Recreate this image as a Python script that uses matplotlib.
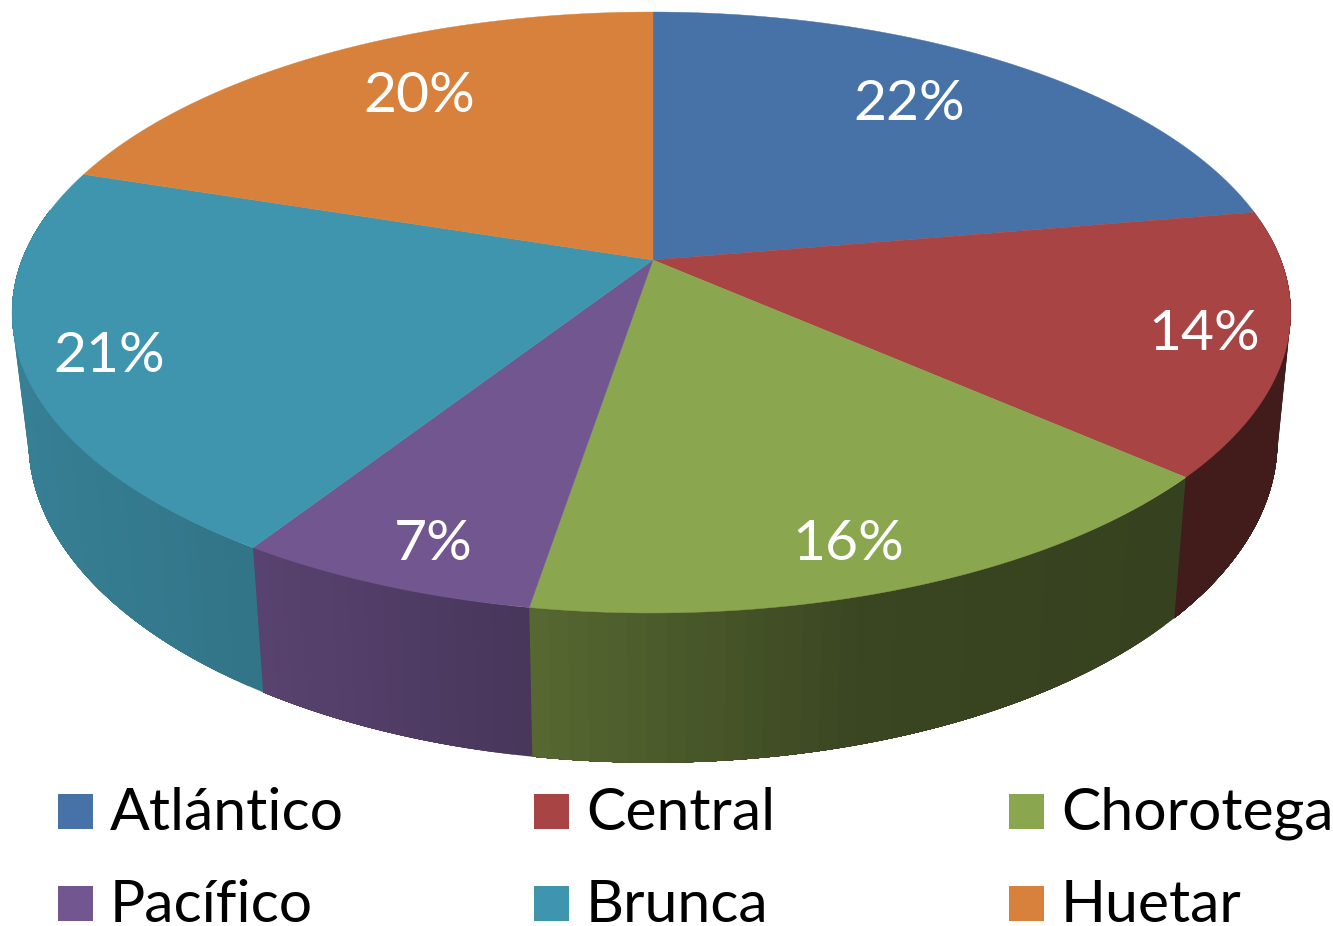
import numpy as np
import matplotlib
matplotlib.use("Agg")
import matplotlib.pyplot as plt
from matplotlib.patches import Polygon, Rectangle

categories = ["Atlántico", "Central", "Chorotega", "Pacífico", "Brunca", "Huetar"]
values = [22.3, 14.2, 16.1, 6.5, 20.9, 20.0]
value_labels = ["22%", "14%", "16%", "7%", "21%", "20%"]
colors = ["#4672A7", "#A94444", "#8AA64F", "#725690", "#4095AE", "#D8813C"]

W, H = 1333, 926
TOP = dict(x0=653, y0=260, A=629.5, B=291.3, c=0.1747, d=-0.0025)
BOT = dict(x0=653, y0=385, A=615, B=312, c=0.174, d=0.0)
LABEL_XY = [(909, 105), (1204, 335), (848, 545), (433, 545), (109, 356), (419, 97)]
LEG_X = [58, 534, 1009]
LEG_Y = [794, 886]


def proj(deg, p):
    t = np.radians(deg)
    X, Y = np.sin(t), -np.cos(t)
    w = 1 - p["c"] * Y - p["d"] * X
    return p["x0"] + p["A"] * X / w, p["y0"] + p["B"] * Y / w


def shade(x):
    return np.interp(x, [33, 252, 530, 860, 1174], [0.85, 0.78, 0.63, 0.42, 0.39])


fig = plt.figure(figsize=(W / 100, H / 100), dpi=100)
ax = fig.add_axes([0, 0, 1, 1])
ax.set_xlim(0, W)
ax.set_ylim(H, 0)
ax.axis("off")
plt.rcParams["font.family"] = ["Lato", "DejaVu Sans"]

edges = np.cumsum([0] + values) / sum(values) * 360

# side walls: overlapping strips painted in order, each covering the previous seam
for i, col in enumerate(colors):
    rgb = np.array(matplotlib.colors.to_rgb(col))
    a0, a1 = edges[i], edges[i + 1]
    lo, hi = max(a0, 80), min(a1, 280)
    if hi <= lo:
        continue
    n = max(1, int(round((hi - lo) / 1.5)))
    aa = np.linspace(lo, hi, n + 1)
    for s, e in zip(aa[:-1], aa[1:]):
        arc = np.linspace(s, hi, 40) if e < hi else np.linspace(s, e, 6)
        xt, yt = proj(arc, TOP)
        xb, yb = proj(arc, BOT)
        xm = (proj((s + e) / 2, TOP)[0] + proj((s + e) / 2, BOT)[0]) / 2
        f = shade(xm)
        pts = list(zip(xt, yt)) + list(zip(xb[::-1], yb[::-1]))
        ax.add_patch(Polygon(pts, closed=True, fc=rgb * f, ec="none", lw=0, zorder=2))

# top faces
for i, col in enumerate(colors):
    aa = np.linspace(edges[i], edges[i + 1], 120)
    xs, ys = proj(aa, TOP)
    pts = [(TOP["x0"], TOP["y0"])] + list(zip(xs, ys))
    ax.add_patch(Polygon(pts, closed=True, fc=col, ec=col, lw=0.3, zorder=3))

for (x, y), s in zip(LABEL_XY, value_labels):
    ax.text(x, y, s, color="white", fontsize=41, ha="center", va="center", zorder=5)

# legend
for i, (name, col) in enumerate(zip(categories, colors)):
    x = LEG_X[i % 3]
    y = LEG_Y[i // 3]
    ax.add_patch(Rectangle((x, y), 35, 35, fc=col, ec="none", zorder=4))
    ax.text(x + 52, y + 36, name, color="black", fontsize=42.4, ha="left",
            va="baseline", zorder=5)

fig.savefig("out.png", dpi=100)
